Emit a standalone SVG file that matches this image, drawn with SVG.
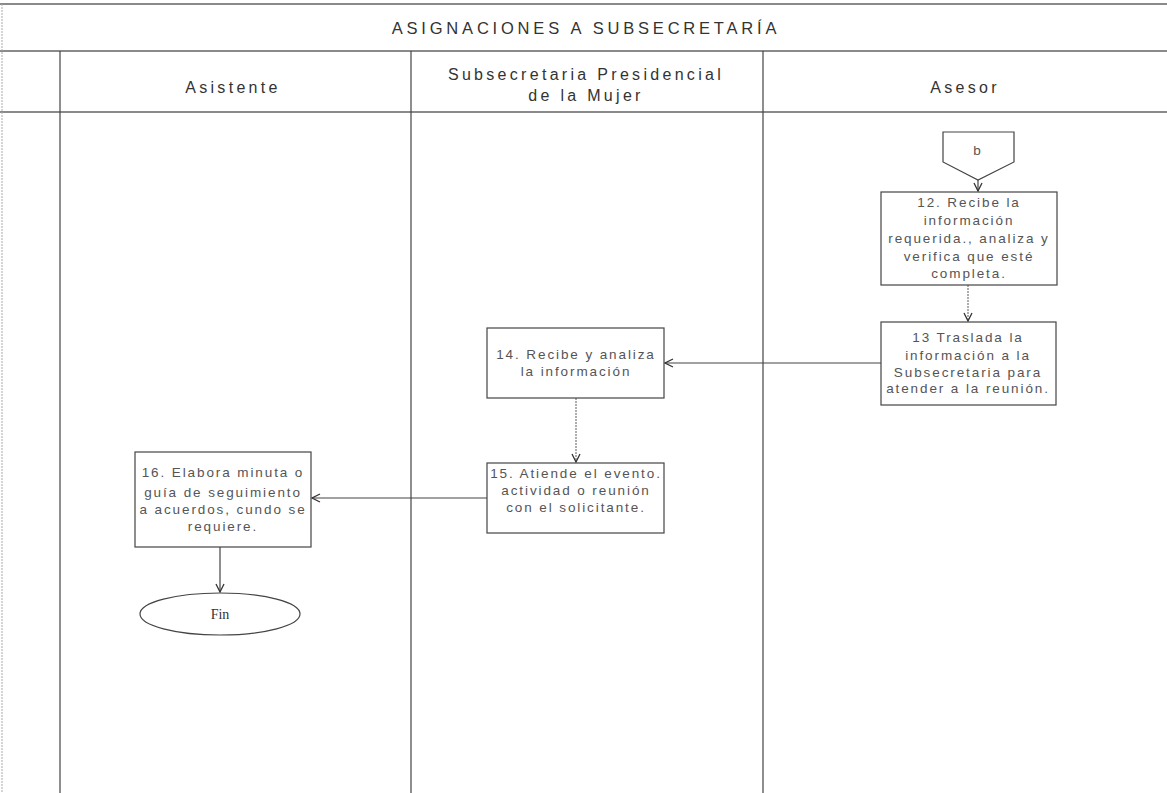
<svg xmlns="http://www.w3.org/2000/svg" width="1167" height="793" viewBox="0 0 1167 793">
  <style>
    .frame { stroke: #8a8a8a; stroke-width: 2; fill: none; }
    .lane { stroke: #444; stroke-width: 1.2; fill: none; }
    .border { stroke: #aaa; stroke-width: 1; stroke-dasharray: 2 1; fill: none; }
    .box { fill: #fff; stroke: #444; stroke-width: 1.2; }
    .hdr { font-family: "Liberation Sans", Arial, sans-serif; font-size: 16px; letter-spacing: 3.3px; fill: #333; text-anchor: middle; }
    .title { font-family: "Liberation Sans", Arial, sans-serif; font-size: 16.5px; letter-spacing: 3.8px; fill: #333; text-anchor: middle; }
    .txt { font-family: "Liberation Sans", Arial, sans-serif; font-size: 13.5px; letter-spacing: 1.9px; fill: #555; text-anchor: middle; }
    .fin { font-family: "Liberation Serif", "Times New Roman", serif; font-size: 14px; fill: #333; text-anchor: middle; }
    .link { stroke: #444; stroke-width: 1.2; fill: none; marker-end: url(#arrow); }
    .dotted { stroke: #777; stroke-dasharray: 2 1; }
  </style>
  <defs>
    <marker id="arrow" viewBox="0 0 10 10" refX="9" refY="5" markerWidth="10" markerHeight="10" markerUnits="userSpaceOnUse" orient="auto">
      <path d="M1,1 L9,5 L1,9" fill="none" stroke="#333" stroke-width="1.3"/>
    </marker>
  </defs>

  <!-- Pool frame and lanes -->
  <g id="frame">
    <rect width="1167" height="793" fill="#fff"/>
    <line class="frame" x1="0" y1="4" x2="1167" y2="4"/>
    <line class="frame" x1="0" y1="51" x2="1167" y2="51"/>
    <line class="frame" x1="0" y1="112" x2="1167" y2="112"/>
    <line class="border" x1="2" y1="4" x2="2" y2="793"/>
    <line class="lane" x1="60" y1="51" x2="60" y2="793"/>
    <line class="lane" x1="411" y1="51" x2="411" y2="793"/>
    <line class="lane" x1="763" y1="51" x2="763" y2="793"/>
    <text class="title" x="586" y="34">ASIGNACIONES A SUBSECRETARÍA</text>
    <text class="hdr" x="233" y="93">Asistente</text>
    <text class="hdr" x="586" y="80">Subsecretaria Presidencial</text>
    <text class="hdr" x="586" y="101">de la Mujer</text>
    <text class="hdr" x="965" y="93">Asesor</text>
  </g>

  <!-- Connectors -->
  <g id="connectors">
    <line class="link" x1="978" y1="180" x2="978" y2="191"/>
    <line class="link dotted" x1="968" y1="285" x2="968" y2="321"/>
    <line class="link" x1="881" y1="363" x2="665" y2="363"/>
    <line class="link dotted" x1="576" y1="398" x2="576" y2="462"/>
    <line class="link" x1="487" y1="498" x2="312" y2="498"/>
    <line class="link" x1="220" y1="547" x2="220" y2="592"/>
  </g>

  <!-- Off-page connector b -->
  <g id="conn-b">
    <path d="M943,132 L1014,132 L1014,162 L978,180 L943,162 Z" fill="#fff" stroke="#444" stroke-width="1.2"/>
    <text class="txt" x="978" y="155">b</text>
  </g>

  <g id="step12">
    <rect class="box" x="881" y="192" width="176" height="93"/>
    <text class="txt" x="969" y="207">12. Recibe la</text>
    <text class="txt" x="969" y="225">información</text>
    <text class="txt" x="969" y="243">requerida., analiza y</text>
    <text class="txt" x="969" y="261">verifica que esté</text>
    <text class="txt" x="969" y="278">completa.</text>
  </g>

  <g id="step13">
    <rect class="box" x="881" y="322" width="175" height="83"/>
    <text class="txt" x="968" y="342">13  Traslada la</text>
    <text class="txt" x="968" y="360">información a la</text>
    <text class="txt" x="968" y="377">Subsecretaria para</text>
    <text class="txt" x="968" y="393">atender a la reunión.</text>
  </g>

  <g id="step14">
    <rect class="box" x="487" y="328" width="177" height="70"/>
    <text class="txt" x="576" y="359">14. Recibe y analiza</text>
    <text class="txt" x="576" y="376">la información</text>
  </g>

  <g id="step15">
    <rect class="box" x="487" y="463" width="177" height="70"/>
    <text class="txt" x="576" y="478">15. Atiende el evento.</text>
    <text class="txt" x="576" y="495">actividad o reunión</text>
    <text class="txt" x="576" y="512">con el solicitante.</text>
  </g>

  <g id="step16">
    <rect class="box" x="135" y="452" width="176" height="95"/>
    <text class="txt" x="223" y="477">16. Elabora minuta o</text>
    <text class="txt" x="223" y="497">guía de seguimiento</text>
    <text class="txt" x="223" y="514">a acuerdos, cundo se</text>
    <text class="txt" x="223" y="531">requiere.</text>
  </g>

  <g id="end">
    <ellipse cx="220" cy="614" rx="80" ry="21" fill="#fff" stroke="#444" stroke-width="1.2"/>
    <text class="fin" x="220" y="619">Fin</text>
  </g>
</svg>
